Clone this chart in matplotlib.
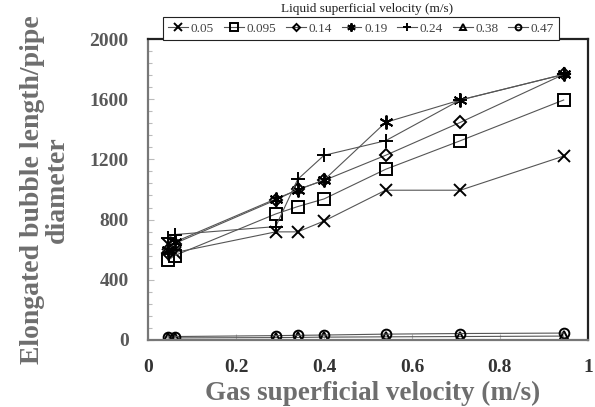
import matplotlib
matplotlib.use('Agg')
import matplotlib.pyplot as plt
import numpy as np

plt.rcParams['font.family'] = ['Liberation Serif', 'DejaVu Serif']

# gas superficial velocity (m/s)
vsg = [0.045, 0.06, 0.29, 0.34, 0.40, 0.54, 0.71, 0.945]
# elongated bubble length / pipe diameter, one list per liquid velocity
lb_005 = [640, 580, 718, 718, 790, 995, 995, 1222]
lb_0095 = [530, 560, 837, 886, 937, 1134, 1324, 1595]
lb_014 = [580, 640, 930, 1000, 1060, 1227, 1446, 1765]
lb_019 = [600, 650, 937, 997, 1063, 1446, 1595, 1765]
lb_024 = [680, 700, 753, 1067, 1227, 1324, 1595, 1765]
lb_038 = [12, 13, 15, 16, 18, 20, 22, 25]
lb_047 = [20, 22, 28, 30, 32, 38, 42, 45]
labels = ['0.05', '0.095', '0.14', '0.19', '0.24', '0.38', '0.47']

series = [lb_005, lb_0095, lb_014, lb_019, lb_024, lb_038, lb_047]
markers = ['x', 's', 'D', (6, 2, 0), '+', '^', 'o']
msizes = [9, 9, 6, 10, 10, 7, 7]

fig = plt.figure(figsize=(5.95, 4.07), dpi=100)
ax = fig.add_axes([0.249, 0.165, 0.739, 0.739])

for ys, lab, m, ms in zip(series, labels, markers, msizes):
    ax.plot(vsg, ys, color='#555555', lw=0.8, marker=m, markersize=ms,
            markerfacecolor='none', markeredgecolor='black', markeredgewidth=1.4,
            label=lab)

ax.set_xlim(0, 1)
ax.set_ylim(0, 2000)
ax.set_xticks([0, 0.2, 0.4, 0.6, 0.8, 1])
ax.set_xticklabels(['0', '0.2', '0.4', '0.6', '0.8', '1'])
ax.set_yticks(np.arange(0, 2001, 400))
ax.set_yticks(np.arange(0, 2001, 80), minor=True)
ax.tick_params(axis='both', which='major', direction='in', length=4, width=0.8,
               color='#bbbbbb', pad=14, labelsize=14)
ax.tick_params(axis='y', which='minor', direction='in', length=3, width=0.8,
               color='#bbbbbb')
for t in ax.get_xticklabels():
    t.set_fontweight('bold')
    t.set_color('#333333')
for t in ax.get_yticklabels():
    t.set_fontweight('bold')
    t.set_color('#595959')

for s in ['top', 'right']:
    ax.spines[s].set_color('#222222')
    ax.spines[s].set_linewidth(1.6)
for s in ['left', 'bottom']:
    ax.spines[s].set_color('#777777')
    ax.spines[s].set_linewidth(1.6)

ax.set_xlabel('Gas superficial velocity (m/s)', fontsize=19.5, fontweight='bold',
              color='#6e6e6e', labelpad=0)
ax.xaxis.set_label_coords(0.51, -0.135)
ax.set_ylabel('Elongated bubble length/pipe\ndiameter', fontsize=20,
              fontweight='bold', color='#6e6e6e', labelpad=14, linespacing=1.0)

leg = fig.legend(loc='lower center', bbox_to_anchor=(0.607, 0.902), ncol=7,
                 fontsize=9.5, handlelength=1.5, handletextpad=0.2,
                 columnspacing=0.75, borderpad=0.4, borderaxespad=0,
                 fancybox=False, framealpha=1, edgecolor='#222222',
                 markerscale=0.6)
leg.get_frame().set_linewidth(0.8)
for t in leg.get_texts():
    t.set_color('#444444')
fig.text(0.617, 0.978, 'Liquid superficial velocity (m/s)', ha='center',
         va='center', fontsize=9.5, color='#222222')

fig.savefig('out.png', dpi=100)
